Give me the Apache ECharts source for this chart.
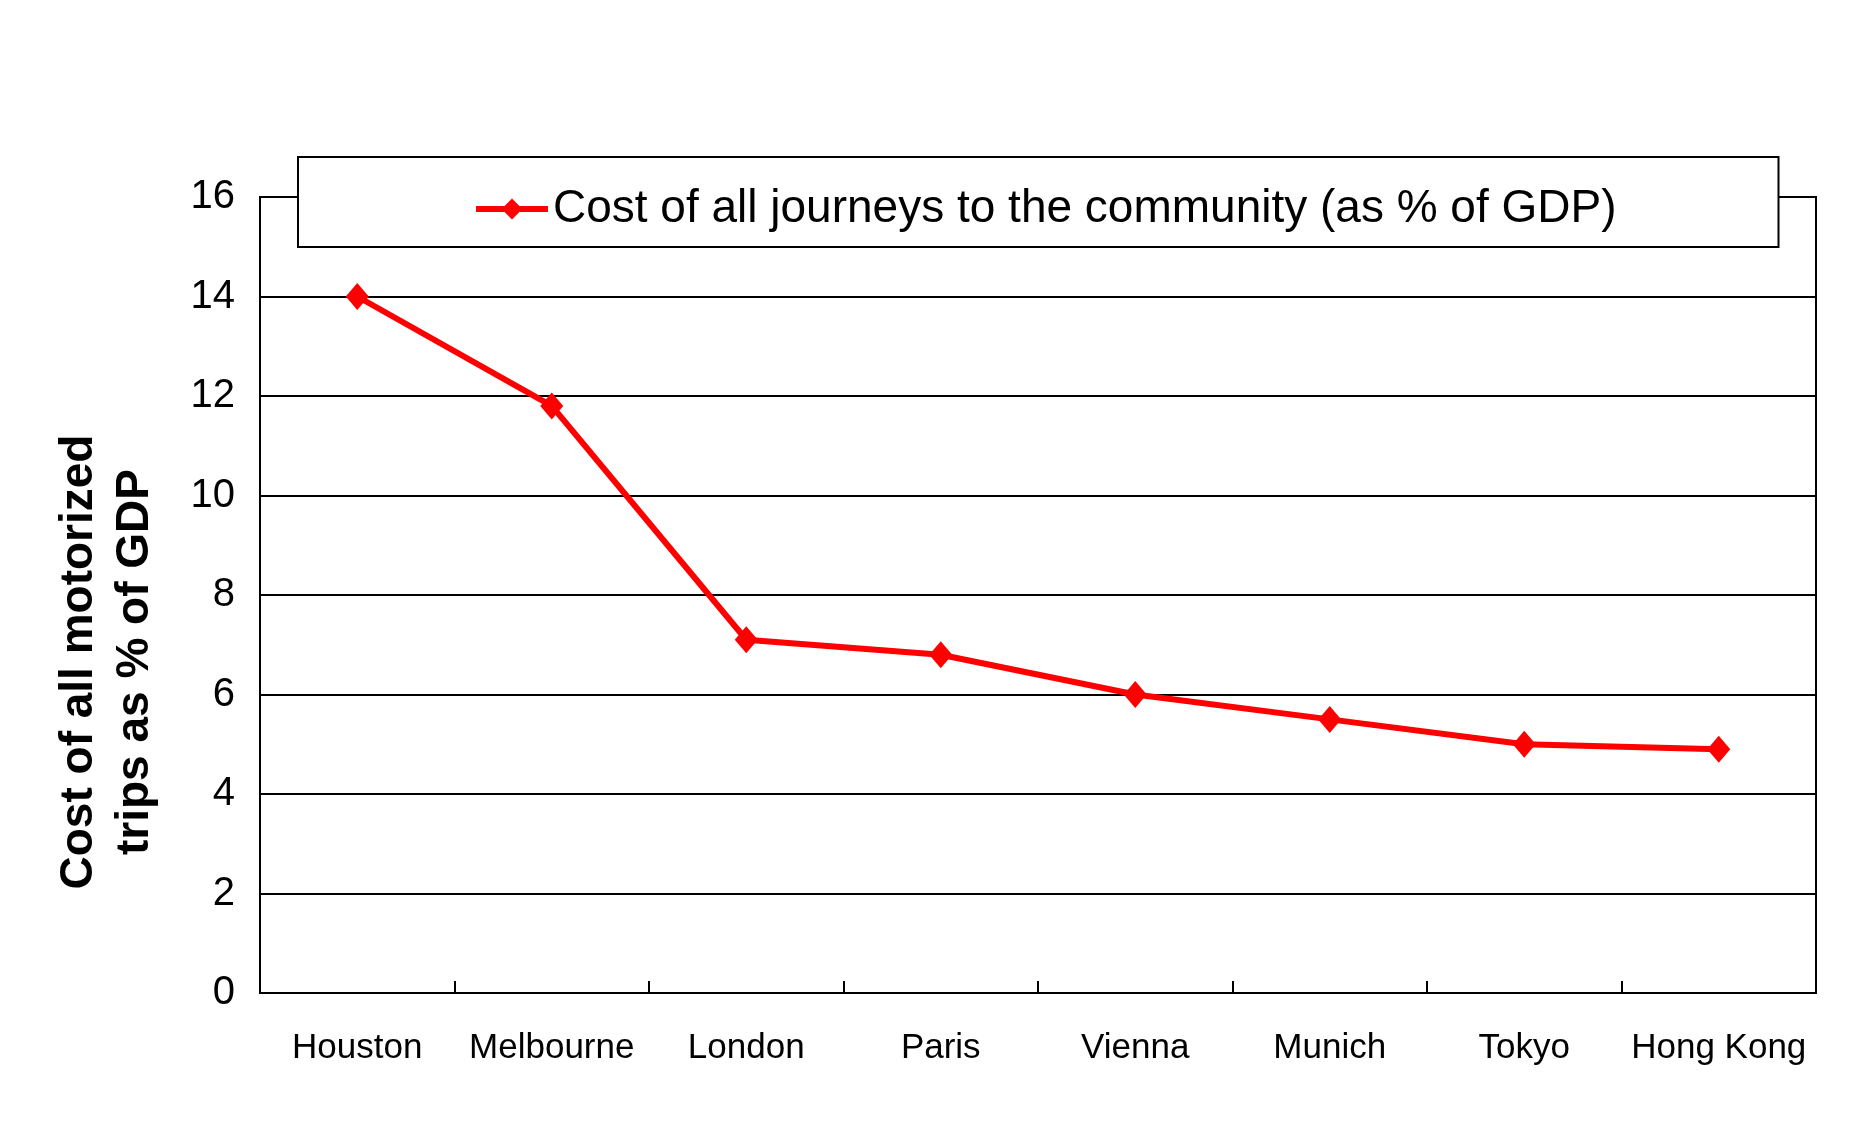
<!DOCTYPE html>
<html>
<head>
<meta charset="utf-8">
<script src="https://cdn.jsdelivr.net/npm/echarts@6/dist/echarts.min.js"></script>
<style>
  html, body { margin: 0; padding: 0; background: #fff; }
  #chart { width: 1876px; height: 1122px; }
</style>
</head>
<body>
<div id="chart"></div>
<script>
// data
const cities = ['Houston', 'Melbourne', 'London', 'Paris', 'Vienna', 'Munich', 'Tokyo', 'Hong Kong']
const costShare = [14.0, 11.8, 7.1, 6.8, 6.0, 5.5, 5.0, 4.9]
const seriesName = 'Cost of all journeys to the community (as % of GDP)'
const yTitle = ['Cost of all motorized', 'trips as % of GDP']

const chart = echarts.init(document.getElementById('chart'))

const option = {
  backgroundColor: '#fff',
  animation: false,
  textStyle: { fontFamily: 'Liberation Sans, Arial, sans-serif', color: '#000' },
  grid: {
    left: 260,
    right: 60,
    top: 197,
    bottom: 129,
    show: true,
    borderColor: '#000',
    borderWidth: 2,
    backgroundColor: 'transparent',
  },
  legend: {
    data: [seriesName],
    left: 298,
    top: 157,
    padding: [29, 162, 15, 175],
    backgroundColor: '#fff',
    borderColor: '#000',
    borderWidth: 2,
    itemWidth: 72,
    itemHeight: 26,
    lineStyle: { width: 6 },
    textStyle: { fontSize: 46, color: '#000' },
  },
  xAxis: {
    type: 'category',
    data: cities,
    boundaryGap: true,
    axisLine: { lineStyle: { color: '#000', width: 2 } },
    axisTick: { show: true, inside: true, length: 12, interval: 0, lineStyle: { color: '#000', width: 2 } },
    axisLabel: { fontSize: 35, color: '#000', margin: 38, interval: 0 },
    splitLine: { show: false },
  },
  yAxis: {
    type: 'value',
    min: 0,
    max: 16,
    interval: 2,
    axisLine: { show: true, lineStyle: { color: '#000', width: 2 } },
    axisTick: { show: false },
    axisLabel: { fontSize: 40, color: '#000', margin: 25 },
    splitLine: { lineStyle: { color: '#000', width: 2 } },
  },
  graphic: [
    {
      type: 'text',
      x: 107,
      y: 662,
      rotation: Math.PI / 2,
      style: {
        text: yTitle.join('\n'),
        font: 'bold 46px Liberation Sans, Arial, sans-serif',
        fill: '#000',
        align: 'center',
        verticalAlign: 'middle',
        lineHeight: 56,
      },
    },
  ],
  series: [
    {
      name: seriesName,
      type: 'line',
      data: costShare,
      symbol: 'diamond',
      symbolSize: [23, 27],
      itemStyle: { color: '#ff0000' },
      lineStyle: { color: '#ff0000', width: 6 },
    },
  ],
}

chart.setOption(option)
</script>
</body>
</html>
